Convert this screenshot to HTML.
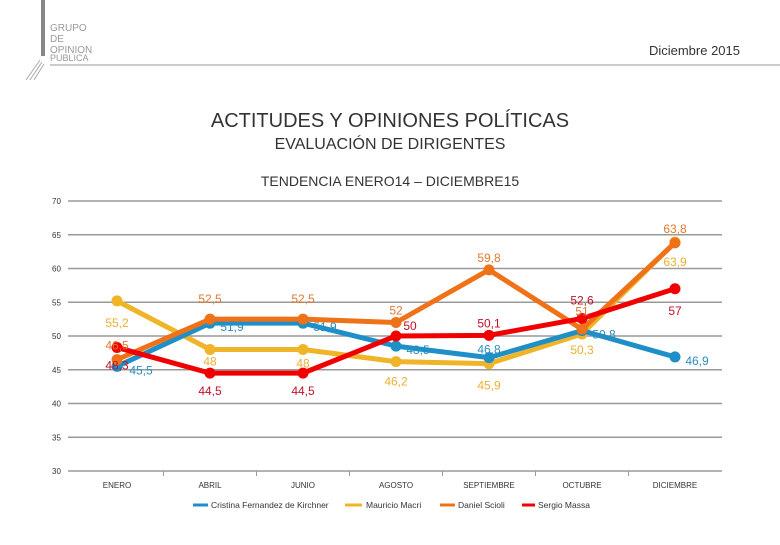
<!DOCTYPE html>
<html><head><meta charset="utf-8"><style>
body{margin:0;width:780px;height:540px;background:#fff;overflow:hidden;font-family:"Liberation Sans",sans-serif}
svg text{font-family:"Liberation Sans",sans-serif}
</style></head><body>
<svg id="c" width="780" height="540">
<rect x="41" y="0" width="4" height="56" fill="#888"/>
<g fill="#999" font-size="10">
<text x="50" y="31">GRUPO</text><text x="50" y="42">DE</text><text x="50" y="53">OPINION</text><text x="50" y="61" font-size="9">PUBLICA</text>
</g>
<path d="M26 80 L40 60 M30 80 L42 62 M34 80 L44 64" stroke="#aaa" stroke-width="1"/>
<line x1="50" y1="65" x2="780" y2="65" stroke="#999" stroke-width="1"/>
<text x="740" y="55" text-anchor="end" font-size="13" fill="#333">Diciembre 2015</text>
<text x="390" y="127" text-anchor="middle" font-size="20" fill="#333">ACTITUDES Y OPINIONES POLÍTICAS</text>
<text x="390" y="149" text-anchor="middle" font-size="16" fill="#333">EVALUACIÓN DE DIRIGENTES</text>
<text x="390" y="186" text-anchor="middle" font-size="14" fill="#333">TENDENCIA ENERO14 – DICIEMBRE15</text>
<g id="plot"></g>
<g font-size="8.5" fill="#333">
<line x1="193" y1="505" x2="208" y2="505" stroke="#1f8fc8" stroke-width="3"/><text x="211" y="508">Cristina Fernandez de Kirchner</text>
<line x1="345" y1="505" x2="362" y2="505" stroke="#f0b429" stroke-width="3"/><text x="366" y="508">Mauricio Macri</text>
<line x1="440" y1="505" x2="455" y2="505" stroke="#f07218" stroke-width="3"/><text x="458" y="508">Daniel Scioli</text>
<line x1="522" y1="505" x2="535" y2="505" stroke="#f00000" stroke-width="3"/><text x="538" y="508">Sergio Massa</text>
</g>
</svg>
<script>
const categories=["ENERO","ABRIL","JUNIO","AGOSTO","SEPTIEMBRE","OCTUBRE","DICIEMBRE"];
const yTicks=[30,35,40,45,50,55,60,65,70];
const cristina=[45.5,51.9,51.9,48.5,46.8,50.8,46.9];
const macri=[55.2,48,48,46.2,45.9,50.3,63.9];
const scioli=[46.5,52.5,52.5,52,59.8,51,63.8];
const massa=[48.3,44.5,44.5,50,50.1,52.6,57];
const cristinaLabels=["45,5","51,9","51,9","48,5","46,8","50,8","46,9"];
const macriLabels=["55,2","48","48","46,2","45,9","50,3","63,9"];
const scioliLabels=["46,5","52,5","52,5","52","59,8","51","63,8"];
const massaLabels=["48,3","44,5","44,5","50","50,1","52,6","57"];
const NS="http://www.w3.org/2000/svg";
const g=document.getElementById('plot');
const x=i=>117+i*93;
const y=v=>471-(v-30)*6.75;
function mk(t,a){const e=document.createElementNS(NS,t);for(const k in a)e.setAttribute(k,a[k]);g.appendChild(e);return e;}
yTicks.forEach(t=>{
 const l=mk('line',{x1:68,x2:722,y1:y(t),y2:y(t),stroke:'#999','stroke-width':1.5});
 
 
 const tx=mk('text',{x:52,y:y(t)+3,'font-size':8,fill:'#333'});tx.textContent=t;
 
 
});
categories.forEach((c,i)=>{
 const tx=mk('text',{x:x(i),y:488,'font-size':8,fill:'#333','text-anchor':'middle'});tx.textContent=c;
 
 
 if(i<categories.length-1){const tk=mk('line',{x1:x(i)+46.5,x2:x(i)+46.5,y1:471,y2:476,stroke:'#999'});
 
 }
});
const series=[
 {vals:macri,labs:macriLabels,col:'#f0b429',tc:'#e8b030',name:'series-macri',off:[[0,22],[0,12],[0,14],[0,20],[0,22],[0,16],[0,20]]},
 {vals:cristina,labs:cristinaLabels,col:'#1f8fc8',tc:'#2a8cbf',name:'series-cristina',off:[[24,4],[22,4],[22,4],[22,4],[0,-8],[22,4],[22,4]]},
 {vals:scioli,labs:scioliLabels,col:'#f07218',tc:'#e07830',name:'series-scioli',off:[[0,-14],[0,-20],[0,-20],[0,-12],[0,-12],[0,-18],[0,-14]]},
 {vals:massa,labs:massaLabels,col:'#f00000',tc:'#c0102a',name:'series-massa',off:[[0,18],[0,18],[0,18],[14,-10],[0,-12],[0,-18],[0,22]]},
];
series.forEach(s=>{
 const p=mk('polyline',{points:s.vals.map((v,i)=>x(i)+','+y(v)).join(' '),fill:'none',stroke:s.col,'stroke-width':5,'stroke-linejoin':'round'});
 
 
 s.vals.forEach((v,i)=>{
  const c=mk('circle',{cx:x(i),cy:y(v),r:5.5,fill:s.col});
  
  
 });
});
series.forEach(s=>{
 s.vals.forEach((v,i)=>{
  const t=mk('text',{x:x(i)+s.off[i][0],y:y(v)+s.off[i][1]+4,'font-size':12,fill:s.tc,'text-anchor':'middle'});
  t.textContent=s.labs[i];
  
  
 });
});
</script>
</body></html>
